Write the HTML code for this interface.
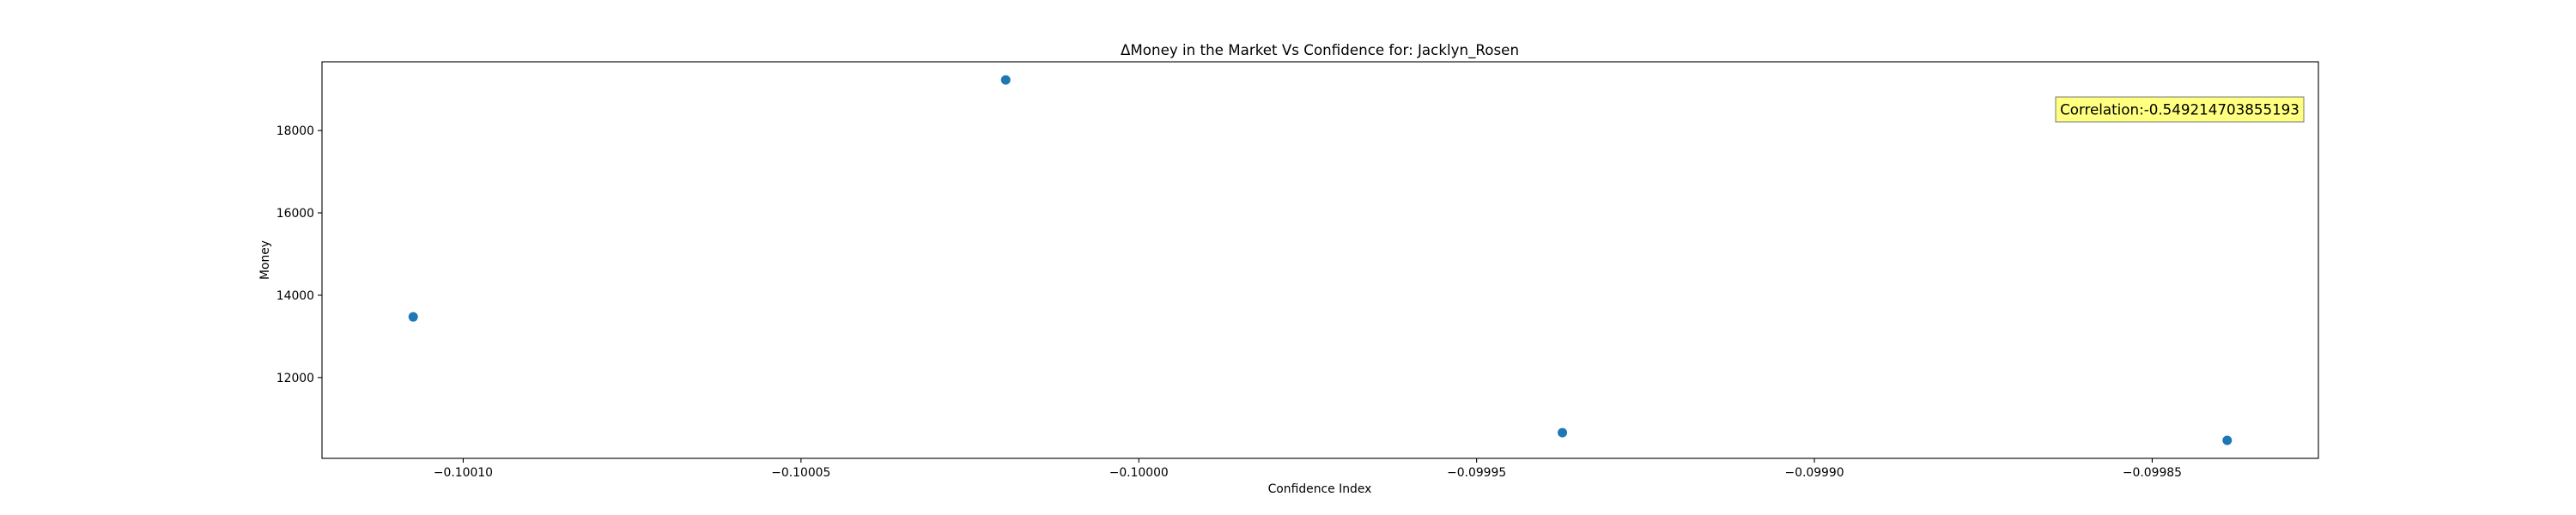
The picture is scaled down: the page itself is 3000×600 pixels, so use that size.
<!DOCTYPE html>
<html><head><meta charset="utf-8"><style>body{margin:0;background:#fff}svg{display:block;font-family:"DejaVu Sans","Liberation Sans",sans-serif}</style></head>
<body>
<svg id="chart" width="3000" height="600" viewBox="0 0 3000 600" xmlns="http://www.w3.org/2000/svg">
<text x="1537" y="64" font-size="16.7" text-anchor="middle">ΔMoney in the Market Vs Confidence for: Jacklyn_Rosen</text>
<rect x="375" y="72" width="2325" height="462" fill="none" stroke="#000" stroke-width="1.1"/>
<g id="xticks"></g>
<g id="yticks"></g>
<g id="points"></g>
<text x="1537" y="574" font-size="13.9" text-anchor="middle">Confidence Index</text>
<text x="313" y="303" font-size="13.9" text-anchor="middle" transform="rotate(-90 313 303)">Money</text>
<g>
<rect x="2394" y="113" width="289" height="29" fill="#ffff80" stroke="#777" stroke-width="1"/>
<text x="2538.5" y="133.5" font-size="16.7" text-anchor="middle">Correlation:-0.549214703855193</text>
</g>
</svg>
<script>
const xValues = [-0.1001074, -0.1000197, -0.0999373, -0.0998389];
const yValues = [13474, 19228, 10662, 10476];
const xTickValues = [-0.10010, -0.10005, -0.10000, -0.09995, -0.09990, -0.09985];
const xTickLabels = ["\u22120.10010", "\u22120.10005", "\u22120.10000", "\u22120.09995", "\u22120.09990", "\u22120.09985"];
const yTickValues = [12000, 14000, 16000, 18000];
const yTickLabels = ["12000", "14000", "16000", "18000"];

const X0 = 375, X1 = 2700, Y0 = 534, Y1 = 72;
const xMin = -0.1001209, xMax = -0.0998254, yMin = 10038, yMax = 19669;
const sx = v => X0 + (v - xMin) / (xMax - xMin) * (X1 - X0);
const sy = v => Y0 - (v - yMin) / (yMax - yMin) * (Y0 - Y1);
const NS = "http://www.w3.org/2000/svg";
function mk(tag, attrs, parent) {
  const e = document.createElementNS(NS, tag);
  for (const k in attrs) e.setAttribute(k, attrs[k]);
  parent.appendChild(e);
  return e;
}
const gx = document.getElementById('xticks');
xTickValues.forEach((v, i) => {
  const x = sx(v);
  const t = mk('line', {x1: x, x2: x, y1: Y0, y2: Y0 + 5, stroke: '#000', 'stroke-width': 1.1}, gx);
  
  
  const l = mk('text', {x: x, y: Y0 + 21, 'font-size': 13.9, 'text-anchor': 'middle'}, gx);
  
  
  l.textContent = xTickLabels[i];
});
const gy = document.getElementById('yticks');
yTickValues.forEach((v, i) => {
  const y = sy(v);
  const t = mk('line', {x1: X0 - 5, x2: X0, y1: y, y2: y, stroke: '#000', 'stroke-width': 1.1}, gy);
  
  
  const l = mk('text', {x: X0 - 9, y: y + 5, 'font-size': 13.9, 'text-anchor': 'end'}, gy);
  
  
  l.textContent = yTickLabels[i];
});
const gp = document.getElementById('points');
xValues.forEach((v, i) => {
  const c = mk('circle', {cx: sx(v), cy: sy(yValues[i]), r: 5.5, fill: '#1f77b4'}, gp);
  
  
});
</script>
</body></html>
